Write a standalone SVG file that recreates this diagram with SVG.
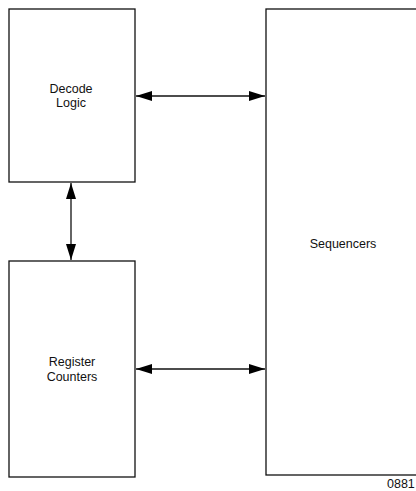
<svg xmlns="http://www.w3.org/2000/svg" width="416" height="491" viewBox="0 0 416 491">
<defs>
<marker id="ah" viewBox="0 0 16 10" refX="16" refY="5" markerWidth="16" markerHeight="10" markerUnits="userSpaceOnUse" orient="auto-start-reverse">
<path d="M0,0 L16,5 L0,10 Z" fill="#000"/>
</marker>
<style>
.box{fill:#fff;stroke:#111;stroke-width:1.3}
.lbl{font-family:"Liberation Sans",Arial,sans-serif;font-size:12.5px;fill:#111;text-anchor:middle}
.conn{stroke:#111;stroke-width:1.3;fill:none;marker-start:url(#ah);marker-end:url(#ah)}
</style>
</defs>
<rect width="416" height="491" fill="#fff"/>
<g id="decode-logic">
<rect class="box" x="9" y="9" width="126" height="173"/>
<text class="lbl" x="71" y="93">Decode</text>
<text class="lbl" x="71" y="107">Logic</text>
</g>
<g id="register-counters">
<rect class="box" x="9" y="261" width="126" height="216"/>
<text class="lbl" x="72" y="366">Register</text>
<text class="lbl" x="72" y="381">Counters</text>
</g>
<g id="sequencers">
<rect class="box" x="266" y="9" width="160" height="466"/>
<text class="lbl" x="343" y="248">Sequencers</text>
</g>
<g id="connectors">
<line class="conn" x1="136" y1="96" x2="265" y2="96"/>
<line class="conn" x1="136" y1="369" x2="265" y2="369"/>
<line class="conn" x1="71" y1="183" x2="71" y2="260"/>
</g>
<text class="lbl" x="387" y="488" style="text-anchor:start">0881</text>
</svg>
